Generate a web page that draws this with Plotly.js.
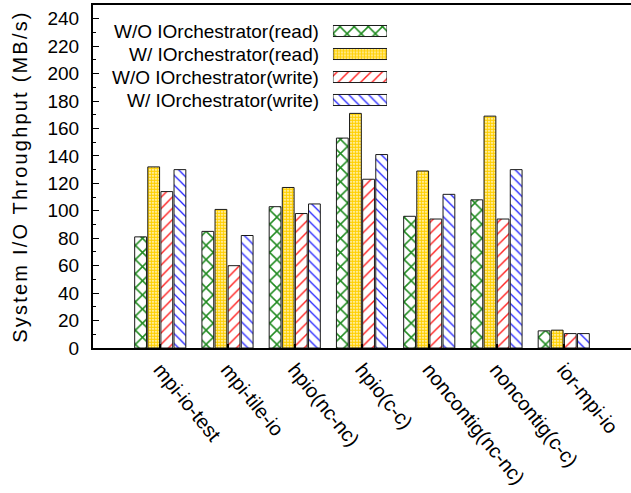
<!DOCTYPE html>
<html>
<head>
<meta charset="utf-8">
<script src="https://cdn.plot.ly/plotly-3.0.1.min.js"></script>
<style>
html,body{margin:0;padding:0;background:#fff;}
#chart{width:631px;height:493px;}
.ytitle{letter-spacing:2.2px;}
</style>
</head>
<body>
<div id="chart"></div>
<script>
const categories = ["mpi-io-test","mpi-tile-io","hpio(nc-nc)","hpio(c-c)","noncontig(nc-nc)","noncontig(c-c)","ior-mpi-io"];
const seriesNames = ["W/O IOrchestrator(read)","W/ IOrchestrator(read)","W/O IOrchestrator(write)","W/ IOrchestrator(write)"];
const woRead  = [81, 85, 103, 153, 96, 108, 12.5];
const wRead   = [132, 101, 117, 171, 129, 169, 13];
const woWrite = [114, 60, 98, 123, 94, 94, 10.5];
const wWrite  = [130, 82, 105, 141, 112, 130, 10.5];
const yTicks = [0,20,40,60,80,100,120,140,160,180,200,220,240];

const seriesValues = [woRead, wRead, woWrite, wWrite];
const patterns = [
  {shape:"x", fgcolor:"#1f8a1f", bgcolor:"#ffffff", size:10, solidity:0.28, fillmode:"replace"},
  {shape:".", fgcolor:"#ffd000", bgcolor:"#ffffff", size:3, solidity:0.75, fillmode:"replace"},
  {shape:"/", fgcolor:"#ff2020", bgcolor:"#ffffff", size:8, solidity:0.18, fillmode:"replace"},
  {shape:"\\", fgcolor:"#2020ff", bgcolor:"#ffffff", size:7, solidity:0.18, fillmode:"replace"}
];
const FONT = "Liberation Sans, Arial, Helvetica, sans-serif";

const traces = seriesValues.map((vals, i) => ({
  type: "bar",
  name: seriesNames[i],
  x: categories.map((_, k) => k),
  y: vals,
  marker: {color: "#ffffff", pattern: patterns[i], line: {color: "#1a1a1a", width: 1}},
  showlegend: false,
  hoverinfo: "y"
}));

// legend swatches drawn as bars on an auxiliary axis pair
seriesNames.forEach((nm, i) => {
  traces.push({
    type: "bar",
    orientation: "h",
    x: [1],
    y: [i],
    width: 0.48,
    xaxis: "x2",
    yaxis: "y2",
    marker: {color: "#ffffff", pattern: patterns[i], line: {color: "#1a1a1a", width: 1}},
    showlegend: false,
    hoverinfo: "skip"
  });
});

const rowY = [0.924, 0.857, 0.790, 0.723];
const annotations = seriesNames.map((nm, i) => ({
  text: nm,
  xref: "paper", yref: "paper",
  x: 0.4238, y: rowY[i],
  xanchor: "right", yanchor: "middle",
  showarrow: false,
  font: {family: FONT, size: 19, color: "#000"}
}));

const layout = {
  width: 631, height: 493,
  margin: {l: 93, r: 0, t: 5, b: 145},
  paper_bgcolor: "#ffffff",
  plot_bgcolor: "#ffffff",
  font: {family: FONT, size: 19, color: "#000"},
  barmode: "group",
  bargap: 0.22,
  bargroupgap: 0.1,
  xaxis: {
    range: [-1, 7],
    tickvals: categories.map((_, k) => k),
    ticktext: categories,
    tickangle: 51,
    ticks: "inside", ticklen: 4, tickwidth: 2, tickcolor: "#000",
    showline: true, linecolor: "#000", linewidth: 2, mirror: true,
    showgrid: false, zeroline: false,
    tickfont: {family: FONT, size: 20, color: "#000"}
  },
  yaxis: {
    range: [0, 250],
    tickvals: yTicks,
    ticks: "inside", ticklen: 6, tickwidth: 1, tickcolor: "#000",
    minor: {dtick: 10, ticks: "inside", ticklen: 3, tickcolor: "#000", showgrid: false},
    showline: true, linecolor: "#000", linewidth: 2, mirror: false,
    showgrid: false, zeroline: false,
    ticklabelstandoff: 8,
    tickfont: {family: FONT, size: 19, color: "#000"},
    title: {text: "System I/O Throughput (MB/s)", font: {family: FONT, size: 20, color: "#000"}, standoff: 14}
  },
  xaxis2: {domain: [0.446, 0.5465], range: [0, 1], visible: false, fixedrange: true, anchor: "y2"},
  yaxis2: {domain: [0.6895, 0.9577], range: [3.5, -0.5], visible: false, fixedrange: true, anchor: "x2"},
  annotations: annotations,
  showlegend: false
};

Plotly.newPlot("chart", traces, layout, {displayModeBar: false, staticPlot: true});
</script>
</body>
</html>
